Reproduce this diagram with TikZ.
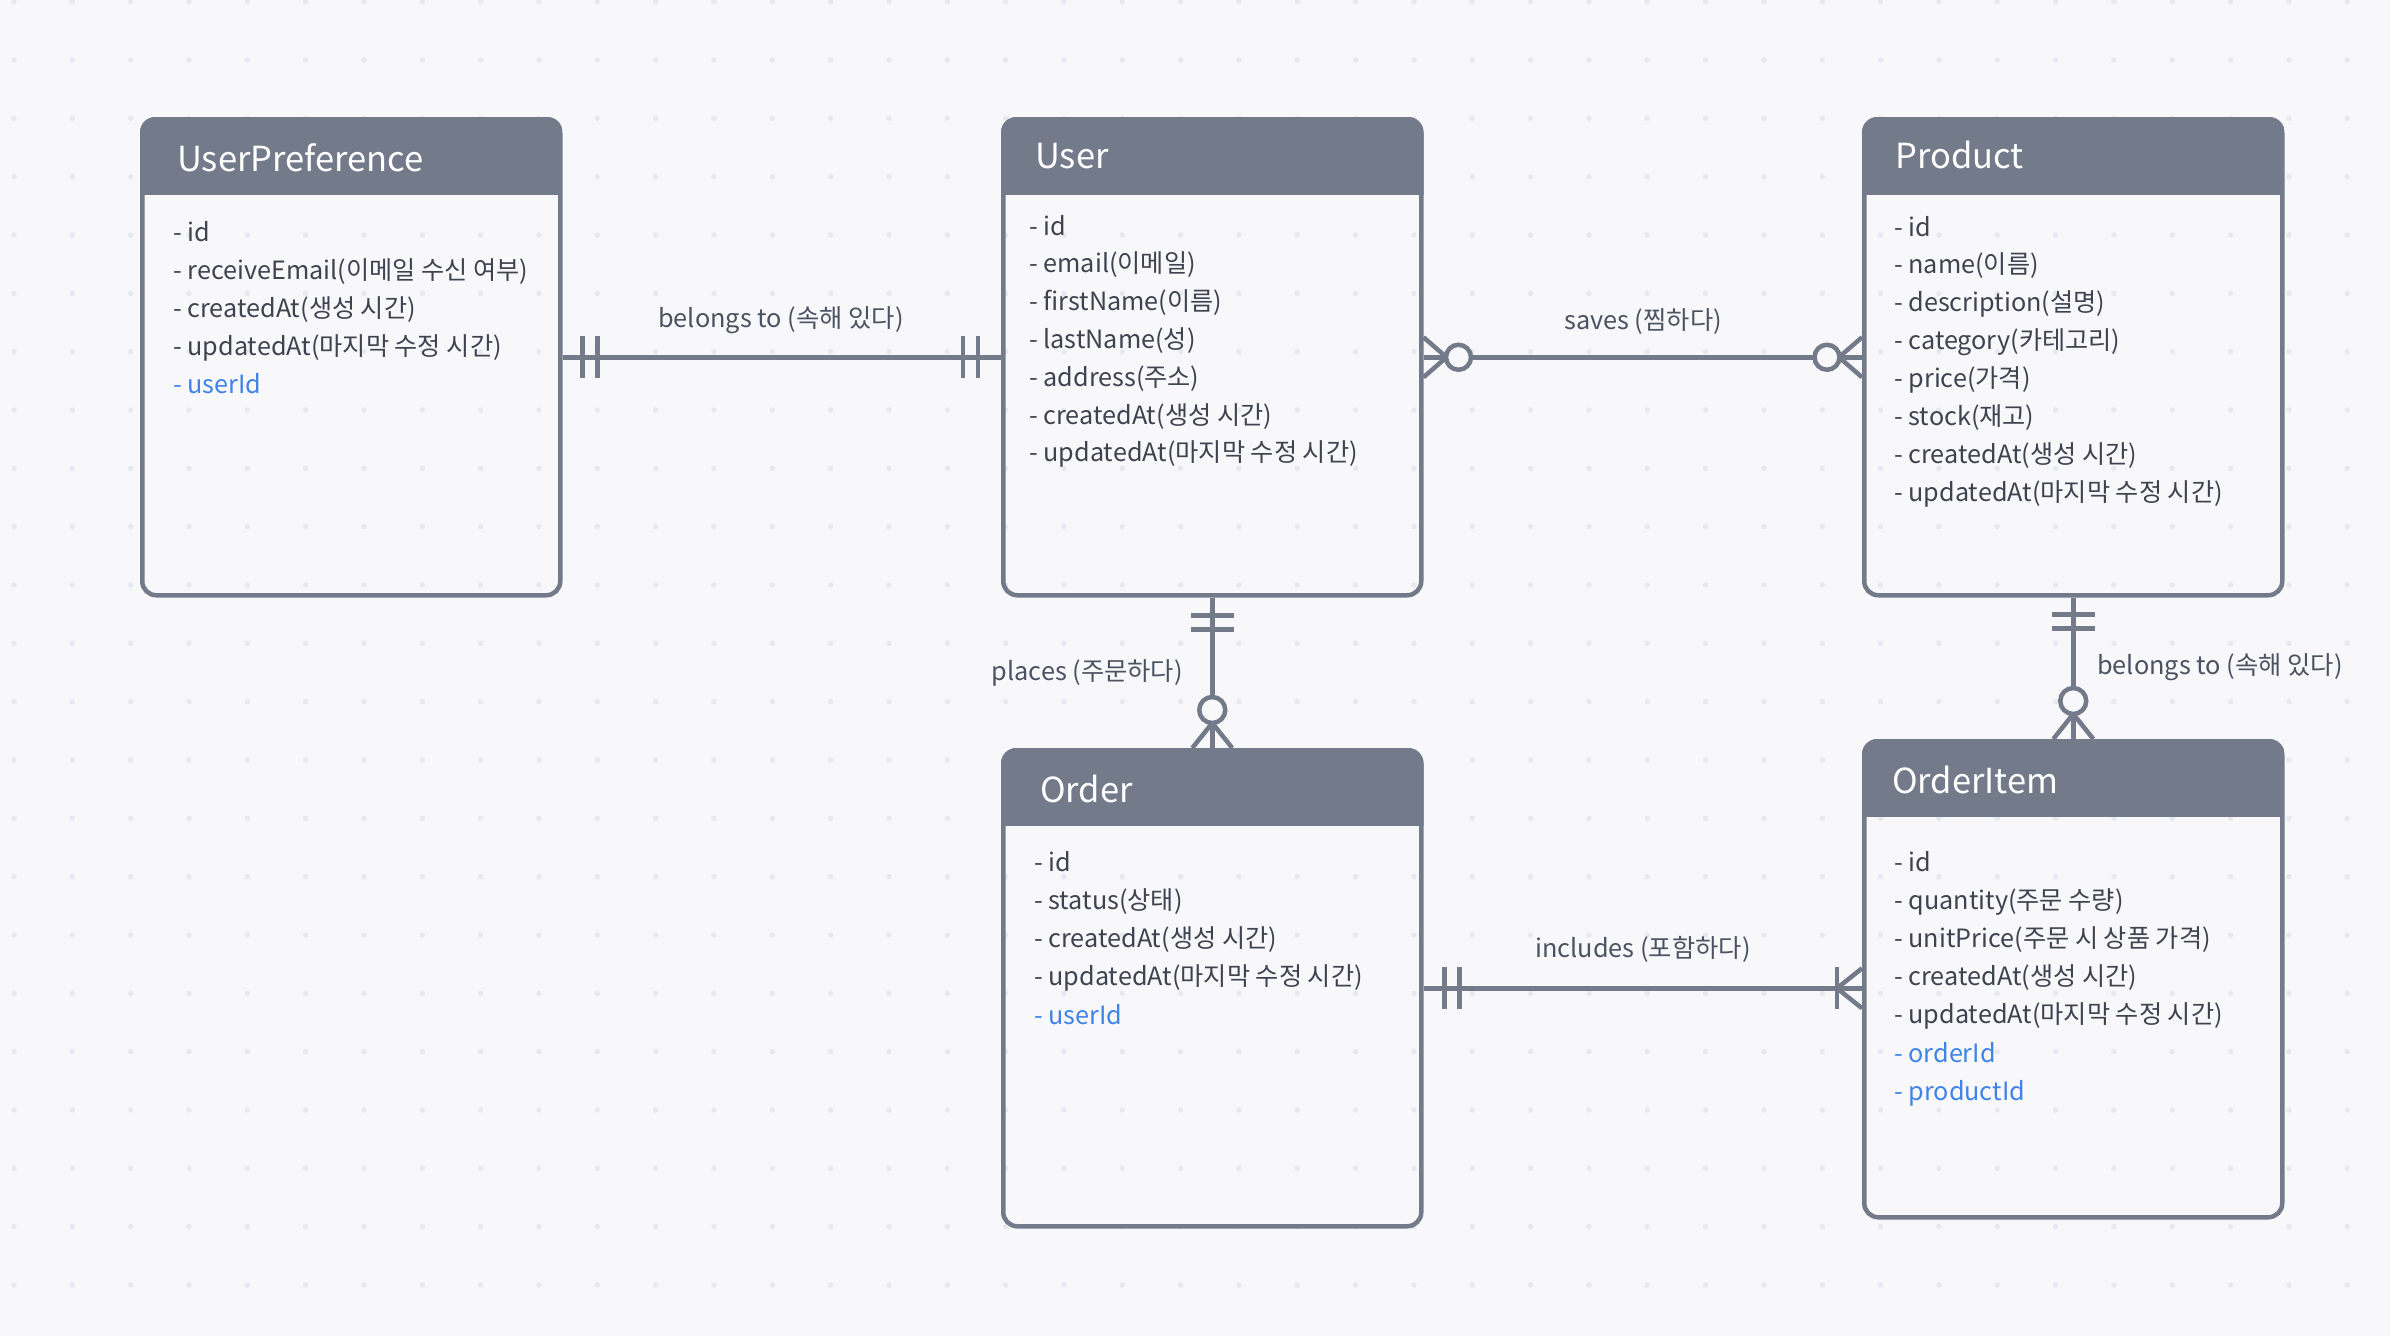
\documentclass[tikz,border=0pt]{standalone}
\usepackage{fontspec}
\setmainfont{Noto Sans CJK KR}
\usetikzlibrary{calc}
\definecolor{bgc}{HTML}{F8F8FA}
\definecolor{dotc}{HTML}{E6E9EF}
\definecolor{hdr}{HTML}{737A8A}
\definecolor{txt}{HTML}{3E4350}
\definecolor{lbl}{HTML}{4B5262}
\definecolor{fk}{HTML}{3F83E8}
\tikzset{
  entity/.style={draw=hdr, line width=4.5pt, rounded corners=14pt, anchor=north west,
    inner sep=0pt, minimum width=418pt, minimum height=476pt},
  title/.style={anchor=base west, inner sep=0pt, text=white, font=\fontsize{34.5}{40}\selectfont},
  row/.style={anchor=base west, inner sep=0pt, text=txt, font=\fontsize{25.2}{30}\selectfont},
  rel/.style={inner sep=0pt, text=lbl, font=\fontsize{25.3}{30}\selectfont},
  conn/.style={draw=hdr, line width=4.5pt},
}
\newcommand\headerfill[1]{%
  \begin{scope}
    \clip[rounded corners=15pt] (#1.north west) rectangle (#1.south east);
    \fill[hdr] (#1.north west) rectangle ([yshift=-78pt]#1.north east);
  \end{scope}}
\begin{document}
\begin{tikzpicture}[x=1pt,y=-1pt]
\useasboundingbox (0,0) rectangle (2390,1336);
\fill[bgc] (0,0) rectangle (2390,1336);
% dotted grid
\foreach \i in {0,...,40}
  \foreach \j in {0,...,22}
    \fill[dotc] (14+\i*58.33, 1.7+\j*58.33) circle (2.7pt);

% entities
\node[entity] (upref) at (140,117) {};
\node[entity] (user) at (1001,117) {};
\node[entity] (product) at (1862,117) {};
\node[entity] (order) at (1001,748) {};
\node[entity] (item) at (1862,739) {};
\headerfill{upref}
\headerfill{user}
\headerfill{product}
\headerfill{order}
\headerfill{item}

% titles
\node[title] (upref-t) at (177,171) {UserPreference};
\node[title] (user-t) at (1035,168) {User};
\node[title] (product-t) at (1895,168) {Product};
\node[title] (order-t) at (1040,802) {Order};
\node[title] (item-t) at (1892,793) {OrderItem};

% attribute rows
\foreach \t [count=\i] in {- id, - receiveEmail(이메일 수신 여부), - createdAt(생성 시간),
    - updatedAt(마지막 수정 시간), {\color{fk}- userId}}
  \node[row] (upref-r\i) at (173, 241+\i*38-38) {\t};
\foreach \t [count=\i] in {- id, - email(이메일), - firstName(이름), - lastName(성),
    - address(주소), - createdAt(생성 시간), - updatedAt(마지막 수정 시간)}
  \node[row] (user-r\i) at (1029, 235+\i*37.8-37.8) {\t};
\foreach \t [count=\i] in {- id, - name(이름), - description(설명), - category(카테고리),
    - price(가격), - stock(재고), - createdAt(생성 시간), - updatedAt(마지막 수정 시간)}
  \node[row] (product-r\i) at (1894, 236+\i*37.9-37.9) {\t};
\foreach \t [count=\i] in {- id, - status(상태), - createdAt(생성 시간),
    - updatedAt(마지막 수정 시간), {\color{fk}- userId}}
  \node[row] (order-r\i) at (1034, 871+\i*38.3-38.3) {\t};
\foreach \t [count=\i] in {- id, - quantity(주문 수량), - unitPrice(주문 시 상품 가격),
    - createdAt(생성 시간), - updatedAt(마지막 수정 시간), {\color{fk}- orderId},
    {\color{fk}- productId}}
  \node[row] (item-r\i) at (1894, 871+\i*38.2-38.2) {\t};

% UserPreference -- User : one and only one on both ends
\draw[conn] (upref.east) -- (user.west);
\foreach \d in {20,35}
  \draw[conn] ([xshift=\d pt,yshift=21pt]upref.east) -- ([xshift=\d pt,yshift=-21pt]upref.east);
\foreach \d in {23,38}
  \draw[conn] ([xshift=-\d pt,yshift=21pt]user.west) -- ([xshift=-\d pt,yshift=-21pt]user.west);
\node[rel] (l-belongs1) at (781,320) {belongs to (속해 있다)};

% User -- Product : zero or many on both ends
\draw[conn] (user.east) -- (product.west);
\draw[conn, line join=miter] ([yshift=20pt]user.east) -- ([xshift=23pt]user.east) -- ([yshift=-20pt]user.east);
\draw[conn, fill=bgc] ([xshift=35pt]user.east) circle (12.5pt);
\draw[conn, line join=miter] ([yshift=20pt]product.west) -- ([xshift=-23pt]product.west) -- ([yshift=-20pt]product.west);
\draw[conn, fill=bgc] ([xshift=-35pt]product.west) circle (12.5pt);
\node[rel] (l-saves) at (1643,322) {saves (찜하다)};

% User -- Order : one to zero or many
\draw[conn] (user.south) -- (order.north);
\foreach \d in {18,32}
  \draw[conn] ([xshift=-21.5pt,yshift=-\d pt]user.south) -- ([xshift=21.5pt,yshift=-\d pt]user.south);
\draw[conn, line join=miter] ([xshift=-20pt]order.north) -- ([yshift=25pt]order.north) -- ([xshift=20pt]order.north);
\draw[conn, fill=bgc] ([yshift=38pt]order.north) circle (13pt);
\node[rel, anchor=east] (l-places) at (1183,673) {places (주문하다)};

% Product -- OrderItem : one to zero or many
\draw[conn] (product.south) -- (product.south |- item.north);
\foreach \d in {17,31}
  \draw[conn] ([xshift=-21.5pt,yshift=-\d pt]product.south) -- ([xshift=21.5pt,yshift=-\d pt]product.south);
\coordinate (item-top) at (product.south |- item.north);
\draw[conn, line join=miter] ([xshift=-20pt]item-top) -- ([yshift=25pt]item-top) -- ([xshift=20pt]item-top);
\draw[conn, fill=bgc] ([yshift=38pt]item-top) circle (13pt);
\node[rel, anchor=west] (l-belongs2) at (2097,667) {belongs to (속해 있다)};

% Order -- OrderItem : one to one or many
\coordinate (item-side) at (order.east -| item.west);
\draw[conn] (order.east) -- (item-side);
\foreach \d in {21,36}
  \draw[conn] ([xshift=\d pt,yshift=21pt]order.east) -- ([xshift=\d pt,yshift=-21pt]order.east);
\draw[conn] ([xshift=-25pt,yshift=21pt]item-side) -- ([xshift=-25pt,yshift=-21pt]item-side);
\draw[conn, line join=miter] ([yshift=20pt]item-side) -- ([xshift=-25pt]item-side) -- ([yshift=-20pt]item-side);
\node[rel] (l-includes) at (1643,949) {includes (포함하다)};
\end{tikzpicture}
\end{document}
